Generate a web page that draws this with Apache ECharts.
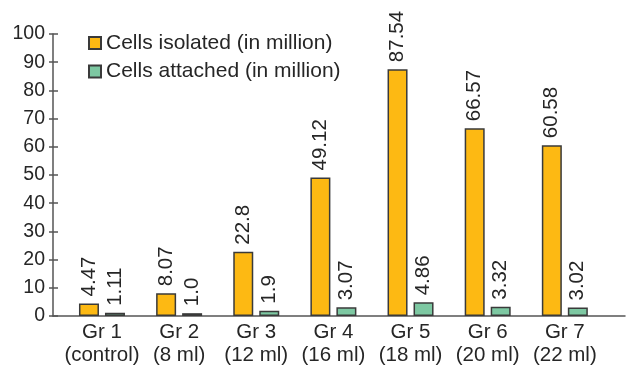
<!DOCTYPE html>
<html>
<head>
<meta charset="utf-8">
<script src="https://cdn.jsdelivr.net/npm/echarts@6/dist/echarts.min.js"></script>
<style>
  html, body { margin: 0; padding: 0; background: #fff; }
  #chart { width: 627px; height: 365px; }
</style>
</head>
<body>
<div id="chart"></div>
<script>
// Group labels (two lines each)
const categories = [
  'Gr 1\n(control)', 'Gr 2\n(8 ml)', 'Gr 3\n(12 ml)', 'Gr 4\n(16 ml)',
  'Gr 5\n(18 ml)', 'Gr 6\n(20 ml)', 'Gr 7\n(22 ml)'
];
// Cell counts, in million
const cellsIsolated = [4.47, 8.07, 22.8, 49.12, 87.54, 66.57, 60.58];
const cellsAttached = [1.11, 1.0, 1.9, 3.07, 4.86, 3.32, 3.02];
const isolatedLabels = ['4.47', '8.07', '22.8', '49.12', '87.54', '66.57', '60.58'];
const attachedLabels = ['1.11', '1.0', '1.9', '3.07', '4.86', '3.32', '3.02'];
const seriesNames = ['Cells isolated (in million)', 'Cells attached (in million)'];

const FONT = 'Liberation Sans';
const TEXT = '#262626';
const AXIS = '#555555';
const BORDER = '#3a3a3a';

const chart = echarts.init(document.getElementById('chart'), null, { renderer: 'canvas' });

function valueLabel(texts) {
  return {
    show: true,
    position: 'top',
    rotate: 90,
    align: 'left',
    verticalAlign: 'middle',
    distance: 7,
    fontFamily: FONT,
    fontSize: 20.5,
    color: TEXT,
    formatter: p => texts[p.dataIndex]
  };
}

chart.setOption({
  animation: false,
  backgroundColor: '#ffffff',
  textStyle: { fontFamily: FONT },
  legend: {
    orient: 'vertical',
    left: 83,
    top: 27,
    itemWidth: 12,
    itemHeight: 12,
    itemGap: 6.5,
    icon: 'rect',
    textStyle: { fontFamily: FONT, fontSize: 21, color: TEXT, lineHeight: 22 },
    data: seriesNames
  },
  grid: [
    // frame grid carrying the visible axes
    { left: 53, right: 2, top: 34, bottom: 49, outerBoundsMode: 'none' },
    // grid holding the bars
    { left: 63.4, right: 23.6, top: 34, bottom: 49, outerBoundsMode: 'none' }
  ],
  xAxis: [
    {
      gridIndex: 0, type: 'value', min: 0, max: 1,
      axisLine: { show: true, lineStyle: { color: AXIS, width: 1.5 } },
      axisTick: { show: false }, axisLabel: { show: false }, splitLine: { show: false }
    },
    {
      gridIndex: 1, type: 'category', data: categories, boundaryGap: true,
      axisLine: { show: false }, axisTick: { show: false },
      axisLabel: {
        margin: 5, fontFamily: FONT, fontSize: 20.5, color: TEXT, lineHeight: 23,
        interval: 0
      }
    }
  ],
  yAxis: [
    {
      gridIndex: 0, type: 'value', min: 0, max: 100, interval: 10,
      axisLine: { show: true, lineStyle: { color: AXIS, width: 1.5 } },
      axisTick: { show: true, length: 4, lineStyle: { color: AXIS, width: 1.5 } },
      axisLabel: { margin: 8, fontFamily: FONT, fontSize: 19.5, color: TEXT },
      splitLine: { show: false }
    },
    {
      gridIndex: 0, type: 'value', min: 0, max: 100, interval: 10, position: 'left',
      axisLine: { show: false },
      axisTick: { show: true, inside: true, length: 5, lineStyle: { color: AXIS, width: 1.5 } },
      axisLabel: { show: false }, splitLine: { show: false }
    },
    {
      gridIndex: 1, type: 'value', min: 0, max: 100, show: false
    }
  ],
  series: [
    {
      name: seriesNames[0], type: 'bar', xAxisIndex: 1, yAxisIndex: 2,
      data: cellsIsolated, barWidth: 20, barGap: '30%',
      itemStyle: { color: '#FDB913', borderColor: BORDER, borderWidth: 1.5 },
      label: valueLabel(isolatedLabels)
    },
    {
      name: seriesNames[1], type: 'bar', xAxisIndex: 1, yAxisIndex: 2,
      data: cellsAttached, barWidth: 20, barGap: '30%',
      itemStyle: { color: '#7DC8A2', borderColor: BORDER, borderWidth: 1.5 },
      label: valueLabel(attachedLabels)
    }
  ]
});
</script>
</body>
</html>
